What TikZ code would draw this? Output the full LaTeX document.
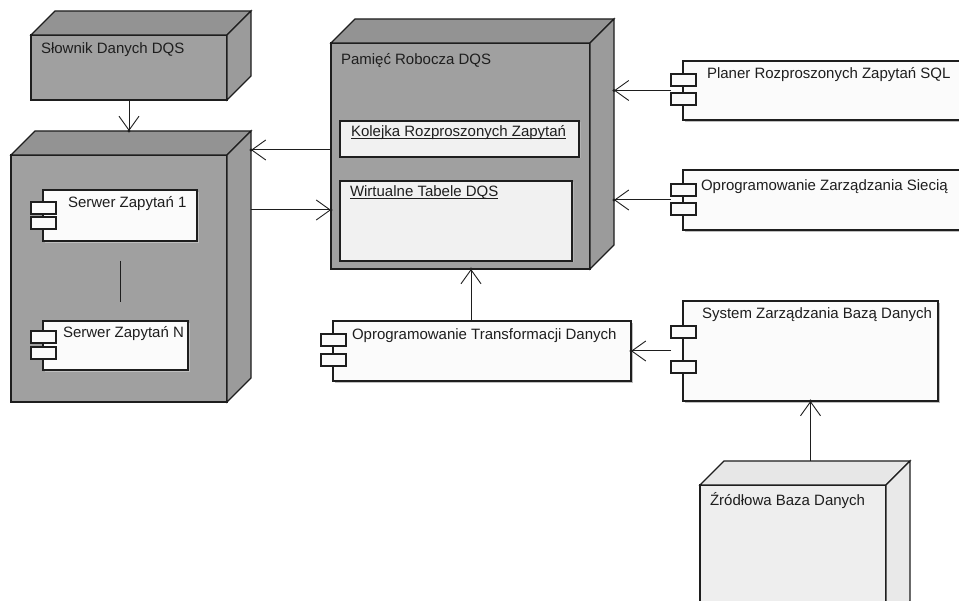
\documentclass[tikz,border=0pt]{standalone}
\usepackage{fontspec}
\setmainfont{Liberation Sans}
\usetikzlibrary{calc,arrows.meta}

\definecolor{devgray}{HTML}{A0A0A0}
\definecolor{devtop}{HTML}{939393}
\definecolor{devside}{HTML}{9B9B9B}
\definecolor{srcfront}{HTML}{EEEEEE}
\definecolor{srctop}{HTML}{E7E7E7}
\definecolor{srcside}{HTML}{E9E9E9}
\definecolor{partfill}{HTML}{F1F1F1}
\definecolor{compfill}{HTML}{FBFBFB}
\definecolor{inkgray}{HTML}{1E1E1E}

\tikzset{
  face/.style={draw=inkgray, line width=1.2pt, line join=miter},
  devfront/.style={face, rectangle, inner sep=0pt, outer sep=0pt, anchor=north west},
  partbox/.style={draw=inkgray, line width=1.1pt, fill=partfill, rectangle,
    inner sep=0pt, outer sep=0pt, anchor=north west,
    preaction={fill=black!30, transform canvas={xshift=1.5pt,yshift=-1.5pt}}},
  compbox/.style={draw=inkgray, line width=1.1pt, fill=compfill, rectangle,
    inner sep=0pt, outer sep=0pt, anchor=north west,
    preaction={fill=black!25, transform canvas={xshift=2pt,yshift=-2pt}}},
  tabbox/.style={draw=inkgray, line width=1.1pt, fill=compfill},
  lbl/.style={inner sep=0pt, outer sep=0pt, anchor=base west, text=inkgray,
    font=\fontsize{15}{18}\selectfont},
  dep/.style={draw=inkgray, line width=1pt,
    -{Straight Barb[length=14pt,width=20pt,line width=0.9pt]}},
  tipdot/.style={fill=inkgray},
  gapline/.style={draw=inkgray, line width=1pt},
}

% top and right faces of a 3D device box whose front face is node #1
\newcommand\devfaces[4]{%
  \filldraw[face, fill=#3] (#1.north west) -- ++(#2,-#2)
    -- ($(#1.north east)+(#2,-#2)$) -- (#1.north east) -- cycle;
  \filldraw[face, fill=#4] (#1.north east) -- ++(#2,-#2)
    -- ($(#1.south east)+(#2,-#2)$) -- (#1.south east) -- cycle;
}
% the two small tabs on the left edge of a component node
\newcommand\comptabs[3]{%
  \draw[tabbox] ($(#1.north west)+(-12,#2)$) rectangle ++(25,12);
  \draw[tabbox] ($(#1.north west)+(-12,#3)$) rectangle ++(25,12);
}

\begin{document}
\begin{tikzpicture}[x=1pt,y=-1pt]
\useasboundingbox (0,0) rectangle (959,601);
\fill[white] (0,0) rectangle (959,601);
\clip (0,0) rectangle (959,601);

% --- Słownik Danych DQS
\node[devfront, fill=devgray, minimum width=196pt, minimum height=65pt] (slownik) at (31,35) {};
\devfaces{slownik}{24}{devtop}{devside}
\node[lbl] (slownikT) at (41,54) {Słownik Danych DQS};

% --- query servers
\node[devfront, fill=devgray, minimum width=216pt, minimum height=247pt] (serwery) at (11,155) {};
\devfaces{serwery}{24}{devtop}{devside}
\node[compbox, minimum width=154pt, minimum height=51pt] (s1) at (43,190) {};
\comptabs{s1}{12}{27}
\node[lbl] (s1T) at (68,208) {Serwer Zapytań 1};
\node[compbox, minimum width=145pt, minimum height=49pt] (sN) at (43,321) {};
\comptabs{sN}{10}{26}
\node[lbl] (sNT) at (63,338) {Serwer Zapytań N};
\draw[gapline] ($(s1.south)+(0,20)$) -- ($(s1.south |- sN.north)+(0,-19)$);

% --- Pamięć Robocza DQS
\node[devfront, fill=devgray, minimum width=259pt, minimum height=226pt] (pamiec) at (331,43) {};
\devfaces{pamiec}{24}{devtop}{devside}
\node[lbl] (pamiecT) at (341,65) {Pamięć Robocza DQS};
\node[partbox, minimum width=239pt, minimum height=36pt] (kolejka) at (340,121) {};
\node[lbl] (kolejkaT) at (351,137) {Kolejka Rozproszonych Zapytań};
\draw[inkgray, line width=0.8pt] ([yshift=-1.6pt]kolejkaT.base west) -- ([yshift=-1.6pt]kolejkaT.base east);
\node[partbox, minimum width=232pt, minimum height=80pt] (wirt) at (340,181) {};
\node[lbl] (wirtT) at (350,197) {Wirtualne Tabele DQS};
\draw[inkgray, line width=0.8pt] ([yshift=-1.6pt]wirtT.base west) -- ([yshift=-1.6pt]wirtT.base east);

% --- right-hand components
\node[compbox, minimum width=280pt, minimum height=59pt] (planer) at (683,61) {};
\comptabs{planer}{13}{32}
\node[lbl] (planerT) at (707,79) {Planer Rozproszonych Zapytań SQL};

\node[compbox, minimum width=280pt, minimum height=60pt] (siec) at (683,170) {};
\comptabs{siec}{14}{33}
\node[lbl] (siecT) at (701,191) {Oprogramowanie Zarządzania Siecią};

\node[compbox, minimum width=298pt, minimum height=60pt] (transf) at (333,321) {};
\comptabs{transf}{13}{33}
\node[lbl] (transfT) at (352,340) {Oprogramowanie Transformacji Danych};

\node[compbox, minimum width=255pt, minimum height=100pt] (system) at (683,301) {};
\comptabs{system}{25}{60}
\node[lbl] (systemT) at (702,319) {System Zarządzania Bazą Danych};

% --- Źródłowa Baza Danych
\node[devfront, fill=srcfront, minimum width=186pt, minimum height=140pt] (zrodlo) at (700,485) {};
\devfaces{zrodlo}{24}{srctop}{srcside}
\node[lbl] (zrodloT) at (710,505) {Źródłowa Baza Danych};

% --- dependencies
\coordinate (serwerySide) at ($(serwery.north east)+(24,0)$);
\coordinate (pamiecSide) at ($(pamiec.north east)+(24,0)$);
\coordinate (kolejkaOut) at ($(pamiec.north west)+(0,107)$);
\coordinate (serweryOut) at ($(serwerySide)+(0,55)$);
\coordinate (planerPort) at ($(planer.west)+(-12,0)$);
\coordinate (siecPort) at ($(siec.west)+(-12,0)$);
\coordinate (transfTop) at ($(transf.north west)+(138,0)$);
\coordinate (systemPort) at ($(system.west)+(-12,0)$);

\draw[dep] (slownik.south) -- ($(slownik.south |- serwery.north)+(0,-24)$) coordinate (t1);
\draw[dep] (kolejkaOut) -- (kolejkaOut -| serwerySide) coordinate (t2);
\draw[dep] (serweryOut) -- (serweryOut -| pamiec.west) coordinate (t3);
\draw[dep] (planerPort) -- (planerPort -| pamiecSide) coordinate (t4);
\draw[dep] (siecPort) -- (siecPort -| pamiecSide) coordinate (t5);
\draw[dep] (transfTop) -- (transfTop |- pamiec.south) coordinate (t6);
\draw[dep] (systemPort) -- (systemPort -| transf.east) coordinate (t7);
\draw[dep] ($(system.south |- zrodlo.north)+(0,-24)$) -- (system.south) coordinate (t8);
\foreach \t in {t1,t2,t3,t4,t5,t6,t7,t8} \fill[tipdot] (\t) circle (1.6pt);
\end{tikzpicture}
\end{document}
